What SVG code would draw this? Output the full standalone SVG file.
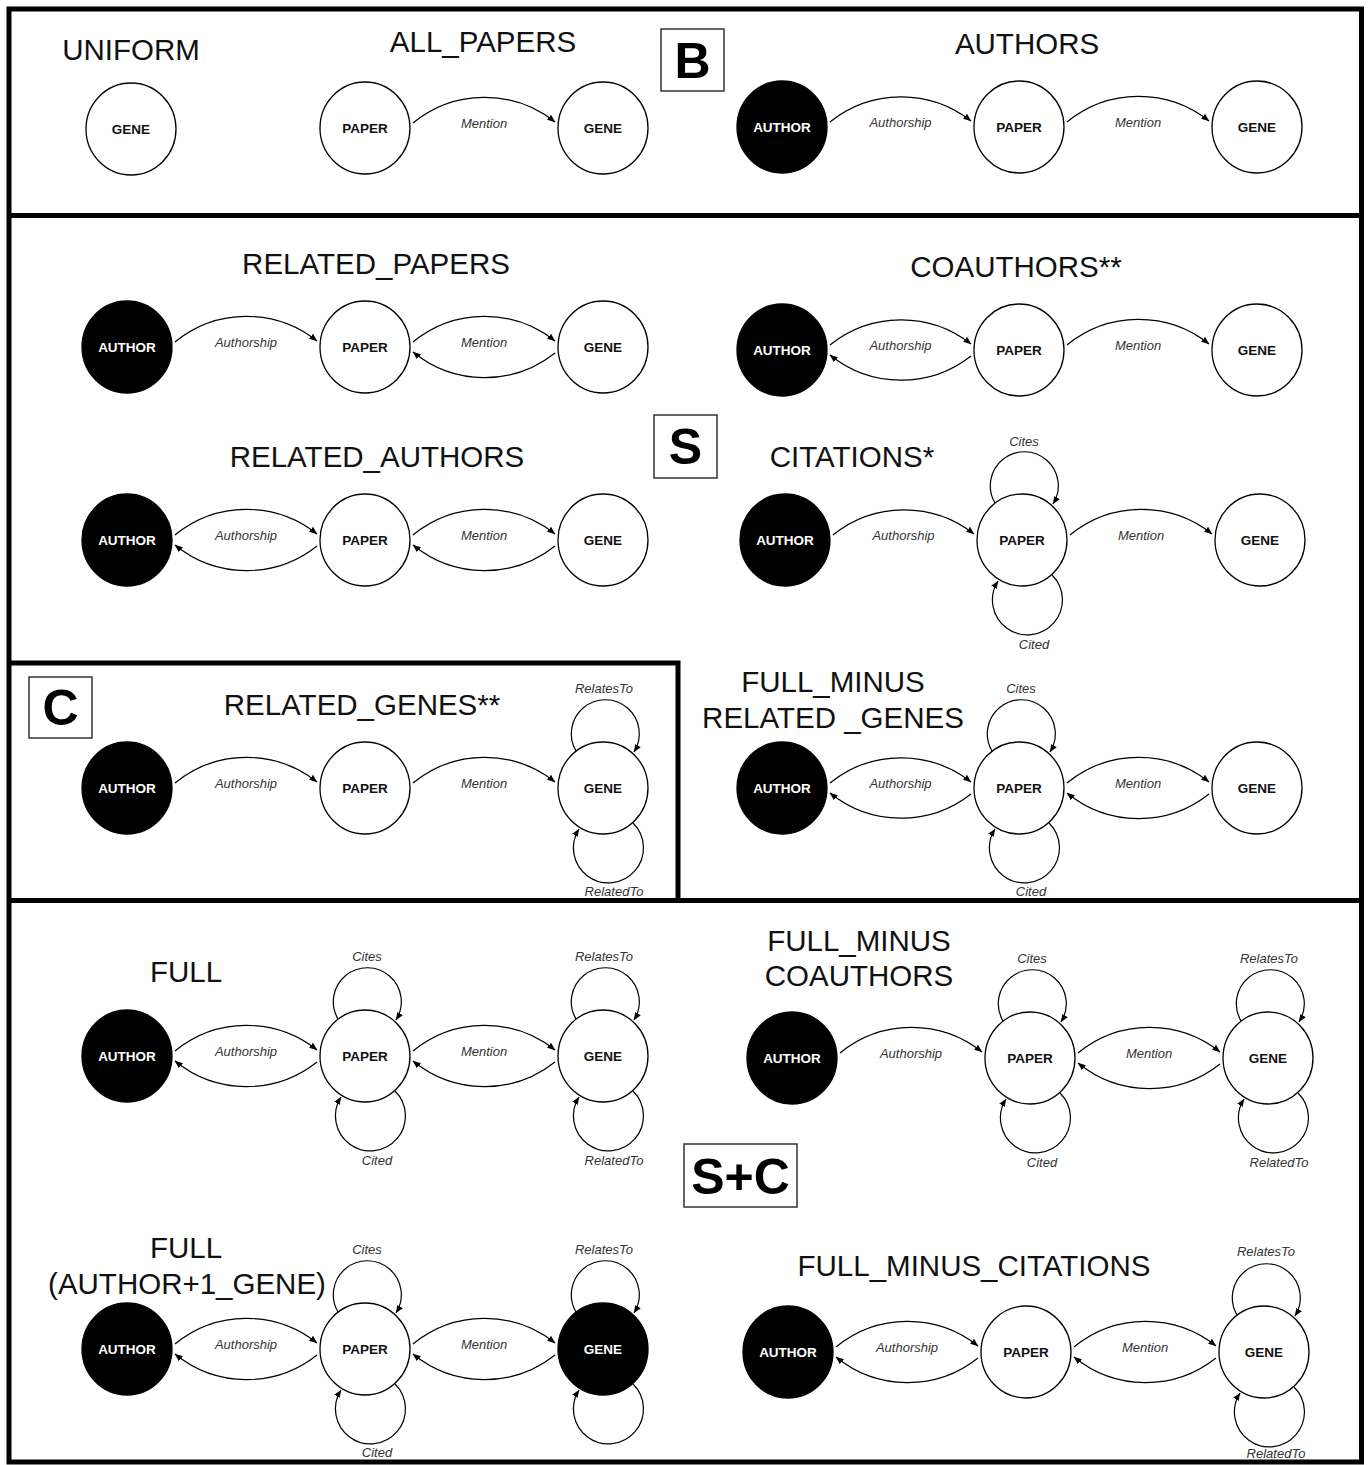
<svg xmlns="http://www.w3.org/2000/svg" width="1369" height="1465" viewBox="0 0 1369 1465">
  <defs>
    <marker id="ah" viewBox="0 0 10 10" refX="9.5" refY="5" markerWidth="8" markerHeight="8" markerUnits="userSpaceOnUse" orient="auto">
      <path d="M0,1 L10,5 L0,9 z" fill="#000"/>
    </marker>
    <style>
      .frame { fill: none; stroke: #000; stroke-width: 5; }
      .tag { fill: #fff; stroke: #333; stroke-width: 1.5; }
      .tagtxt { font-family: "Liberation Sans", Arial, sans-serif; font-weight: bold; font-size: 50px; text-anchor: middle; fill: #000; }
      .title { font-family: "Liberation Sans", Arial, sans-serif; font-size: 29.5px; text-anchor: middle; fill: #111; }
      .node { fill: #fff; stroke: #000; stroke-width: 1.3; }
      .dark { fill: #000; }
      .nl { font-family: "Liberation Sans", Arial, sans-serif; font-weight: bold; font-size: 13.5px; text-anchor: middle; fill: #111; }
      .nlw { fill: #fff; }
      .edge { fill: none; stroke: #000; stroke-width: 1.2; marker-end: url(#ah); }
      .el { font-family: "Liberation Sans", Arial, sans-serif; font-style: italic; font-size: 13px; text-anchor: middle; fill: #333; }
    </style>
  </defs>
  <rect width="1369" height="1465" fill="#fff"/>

  <!-- panel frames -->
  <g id="frames">
    <rect class="frame" x="9" y="9" width="1352.5" height="1453"/>
    <line class="frame" x1="9" y1="215.5" x2="1361.5" y2="215.5"/>
    <line class="frame" x1="9" y1="900.5" x2="1361.5" y2="900.5"/>
    <path class="frame" d="M9,663 H678 V900.5"/>
  </g>

  <!-- section tags -->
  <g id="tag-B"><rect class="tag" x="661" y="29" width="63" height="62"/><text class="tagtxt" x="692.5" y="78">B</text></g>
  <g id="tag-S"><rect class="tag" x="654" y="415" width="63" height="63"/><text class="tagtxt" x="685.5" y="464">S</text></g>
  <g id="tag-C"><rect class="tag" x="29" y="677" width="63" height="61"/><text class="tagtxt" x="60.5" y="725">C</text></g>
  <g id="tag-SC"><rect class="tag" x="684" y="1144" width="113" height="63"/><text class="tagtxt" x="740.5" y="1194">S+C</text></g>

  <!-- titles -->
  <g id="titles">
    <text class="title" x="131" y="60">UNIFORM</text>
    <text class="title" x="483" y="52">ALL_PAPERS</text>
    <text class="title" x="1027" y="54">AUTHORS</text>
    <text class="title" x="376" y="274">RELATED_PAPERS</text>
    <text class="title" x="1016" y="277">COAUTHORS**</text>
    <text class="title" x="377" y="467">RELATED_AUTHORS</text>
    <text class="title" x="852" y="467">CITATIONS*</text>
    <text class="title" x="362" y="715">RELATED_GENES**</text>
    <text class="title" x="833" y="692">FULL_MINUS</text>
    <text class="title" x="833" y="728">RELATED _GENES</text>
    <text class="title" x="186" y="982">FULL</text>
    <text class="title" x="859" y="951">FULL_MINUS</text>
    <text class="title" x="859" y="986">COAUTHORS</text>
    <text class="title" x="186" y="1258">FULL</text>
    <text class="title" x="187" y="1294">(AUTHOR+1_GENE)</text>
    <text class="title" x="974" y="1276">FULL_MINUS_CITATIONS</text>
  </g>

  <!-- connectors: forward edges arc over the top, reverse edges under the bottom -->
  <g id="connectors">
    <!-- ALL_PAPERS -->
    <path class="edge" d="M413,123 A113,113 0 0 1 555,122"/>
    <text class="el" x="484" y="128">Mention</text>
    <!-- AUTHORS -->
    <path class="edge" d="M830,122 A113,113 0 0 1 971,121"/>
    <path class="edge" d="M1067,122 A113,113 0 0 1 1209,121"/>
    <text class="el" x="900.5" y="127">Authorship</text>
    <text class="el" x="1138" y="127">Mention</text>
    <!-- RELATED_PAPERS -->
    <path class="edge" d="M175,342 A113,113 0 0 1 317,341"/>
    <path class="edge" d="M413,342 A113,113 0 0 1 555,341"/>
    <path class="edge" d="M555,353 A113,113 0 0 1 413,352"/>
    <text class="el" x="246" y="347">Authorship</text>
    <text class="el" x="484" y="347">Mention</text>
    <!-- COAUTHORS -->
    <path class="edge" d="M830,345 A113,113 0 0 1 971,344"/>
    <path class="edge" d="M971,356 A113,113 0 0 1 830,355"/>
    <path class="edge" d="M1067,345 A113,113 0 0 1 1209,344"/>
    <text class="el" x="900.5" y="350">Authorship</text>
    <text class="el" x="1138" y="350">Mention</text>
    <!-- RELATED_AUTHORS -->
    <path class="edge" d="M175,535 A113,113 0 0 1 317,534"/>
    <path class="edge" d="M317,546 A113,113 0 0 1 175,545"/>
    <path class="edge" d="M413,535 A113,113 0 0 1 555,534"/>
    <path class="edge" d="M555,546 A113,113 0 0 1 413,545"/>
    <text class="el" x="246" y="540">Authorship</text>
    <text class="el" x="484" y="540">Mention</text>
    <!-- CITATIONS -->
    <path class="edge" d="M833,535 A113,113 0 0 1 974,534"/>
    <path class="edge" d="M1070,535 A113,113 0 0 1 1212,534"/>
    <path class="edge" d="M995,503 A34,34 0 1 1 1053,504"/>
    <path class="edge" d="M1052,575 A35,35 0 1 1 998,581"/>
    <text class="el" x="903.5" y="540">Authorship</text>
    <text class="el" x="1141" y="540">Mention</text>
    <text class="el" x="1024" y="446">Cites</text>
    <text class="el" x="1034" y="649">Cited</text>
    <!-- RELATED_GENES -->
    <path class="edge" d="M175,783 A113,113 0 0 1 317,782"/>
    <path class="edge" d="M413,783 A113,113 0 0 1 555,782"/>
    <path class="edge" d="M576,751 A34,34 0 1 1 634,752"/>
    <path class="edge" d="M633,823 A35,35 0 1 1 579,829"/>
    <text class="el" x="246" y="788">Authorship</text>
    <text class="el" x="484" y="788">Mention</text>
    <text class="el" x="604" y="693">RelatesTo</text>
    <text class="el" x="614" y="896">RelatedTo</text>
    <!-- FULL_MINUS RELATED_GENES -->
    <path class="edge" d="M830,783 A113,113 0 0 1 971,782"/>
    <path class="edge" d="M971,794 A113,113 0 0 1 830,793"/>
    <path class="edge" d="M1067,783 A113,113 0 0 1 1209,782"/>
    <path class="edge" d="M1209,794 A113,113 0 0 1 1067,793"/>
    <path class="edge" d="M992,751 A34,34 0 1 1 1050,752"/>
    <path class="edge" d="M1049,823 A35,35 0 1 1 995,829"/>
    <text class="el" x="900.5" y="788">Authorship</text>
    <text class="el" x="1138" y="788">Mention</text>
    <text class="el" x="1021" y="693">Cites</text>
    <text class="el" x="1031" y="896">Cited</text>
    <!-- FULL -->
    <path class="edge" d="M175,1051 A113,113 0 0 1 317,1050"/>
    <path class="edge" d="M317,1062 A113,113 0 0 1 175,1061"/>
    <path class="edge" d="M413,1051 A113,113 0 0 1 555,1050"/>
    <path class="edge" d="M555,1062 A113,113 0 0 1 413,1061"/>
    <path class="edge" d="M338,1019 A34,34 0 1 1 396,1020"/>
    <path class="edge" d="M395,1091 A35,35 0 1 1 341,1097"/>
    <path class="edge" d="M576,1019 A34,34 0 1 1 634,1020"/>
    <path class="edge" d="M633,1091 A35,35 0 1 1 579,1097"/>
    <text class="el" x="246" y="1056">Authorship</text>
    <text class="el" x="484" y="1056">Mention</text>
    <text class="el" x="367" y="961">Cites</text>
    <text class="el" x="377" y="1165">Cited</text>
    <text class="el" x="604" y="961">RelatesTo</text>
    <text class="el" x="614" y="1165">RelatedTo</text>
    <!-- FULL_MINUS COAUTHORS -->
    <path class="edge" d="M840,1053 A113,113 0 0 1 982,1052"/>
    <path class="edge" d="M1078,1053 A113,113 0 0 1 1220,1052"/>
    <path class="edge" d="M1220,1064 A113,113 0 0 1 1078,1063"/>
    <path class="edge" d="M1003,1021 A34,34 0 1 1 1061,1022"/>
    <path class="edge" d="M1060,1093 A35,35 0 1 1 1006,1099"/>
    <path class="edge" d="M1241,1021 A34,34 0 1 1 1299,1022"/>
    <path class="edge" d="M1298,1093 A35,35 0 1 1 1244,1099"/>
    <text class="el" x="911" y="1058">Authorship</text>
    <text class="el" x="1149" y="1058">Mention</text>
    <text class="el" x="1032" y="963">Cites</text>
    <text class="el" x="1042" y="1167">Cited</text>
    <text class="el" x="1269" y="963">RelatesTo</text>
    <text class="el" x="1279" y="1167">RelatedTo</text>
    <!-- FULL (AUTHOR+1_GENE) -->
    <path class="edge" d="M175,1344 A113,113 0 0 1 317,1343"/>
    <path class="edge" d="M317,1355 A113,113 0 0 1 175,1354"/>
    <path class="edge" d="M413,1344 A113,113 0 0 1 555,1343"/>
    <path class="edge" d="M555,1355 A113,113 0 0 1 413,1354"/>
    <path class="edge" d="M338,1312 A34,34 0 1 1 396,1313"/>
    <path class="edge" d="M395,1384 A35,35 0 1 1 341,1390"/>
    <path class="edge" d="M576,1312 A34,34 0 1 1 634,1313"/>
    <path class="edge" d="M633,1384 A35,35 0 1 1 579,1390"/>
    <text class="el" x="246" y="1349">Authorship</text>
    <text class="el" x="484" y="1349">Mention</text>
    <text class="el" x="367" y="1254">Cites</text>
    <text class="el" x="377" y="1457">Cited</text>
    <text class="el" x="604" y="1254">RelatesTo</text>
    <!-- FULL_MINUS_CITATIONS -->
    <path class="edge" d="M836,1347 A113,113 0 0 1 978,1346"/>
    <path class="edge" d="M978,1358 A113,113 0 0 1 836,1357"/>
    <path class="edge" d="M1074,1347 A113,113 0 0 1 1216,1346"/>
    <path class="edge" d="M1216,1358 A113,113 0 0 1 1074,1357"/>
    <path class="edge" d="M1237,1315 A34,34 0 1 1 1295,1316"/>
    <path class="edge" d="M1294,1387 A35,35 0 1 1 1240,1393"/>
    <text class="el" x="907" y="1352">Authorship</text>
    <text class="el" x="1145" y="1352">Mention</text>
    <text class="el" x="1266" y="1256">RelatesTo</text>
    <text class="el" x="1276" y="1458">RelatedTo</text>
  </g>

  <!-- nodes -->
  <g id="uniform-gene"><ellipse class="node" cx="131" cy="129" rx="45" ry="46"/><text class="nl" x="131" y="134">GENE</text></g>

  <g id="allpapers-paper"><ellipse class="node" cx="365" cy="128" rx="45" ry="46"/><text class="nl" x="365" y="133">PAPER</text></g>
  <g id="allpapers-gene"><ellipse class="node" cx="603" cy="128" rx="45" ry="46"/><text class="nl" x="603" y="133">GENE</text></g>

  <g id="authors-author"><ellipse class="node dark" cx="782" cy="127" rx="45" ry="46"/><text class="nl nlw" x="782" y="132">AUTHOR</text></g>
  <g id="authors-paper"><ellipse class="node" cx="1019" cy="127" rx="45" ry="46"/><text class="nl" x="1019" y="132">PAPER</text></g>
  <g id="authors-gene"><ellipse class="node" cx="1257" cy="127" rx="45" ry="46"/><text class="nl" x="1257" y="132">GENE</text></g>

  <g id="relpapers-author"><ellipse class="node dark" cx="127" cy="347" rx="45" ry="46"/><text class="nl nlw" x="127" y="352">AUTHOR</text></g>
  <g id="relpapers-paper"><ellipse class="node" cx="365" cy="347" rx="45" ry="46"/><text class="nl" x="365" y="352">PAPER</text></g>
  <g id="relpapers-gene"><ellipse class="node" cx="603" cy="347" rx="45" ry="46"/><text class="nl" x="603" y="352">GENE</text></g>

  <g id="coauthors-author"><ellipse class="node dark" cx="782" cy="350" rx="45" ry="46"/><text class="nl nlw" x="782" y="355">AUTHOR</text></g>
  <g id="coauthors-paper"><ellipse class="node" cx="1019" cy="350" rx="45" ry="46"/><text class="nl" x="1019" y="355">PAPER</text></g>
  <g id="coauthors-gene"><ellipse class="node" cx="1257" cy="350" rx="45" ry="46"/><text class="nl" x="1257" y="355">GENE</text></g>

  <g id="relauthors-author"><ellipse class="node dark" cx="127" cy="540" rx="45" ry="46"/><text class="nl nlw" x="127" y="545">AUTHOR</text></g>
  <g id="relauthors-paper"><ellipse class="node" cx="365" cy="540" rx="45" ry="46"/><text class="nl" x="365" y="545">PAPER</text></g>
  <g id="relauthors-gene"><ellipse class="node" cx="603" cy="540" rx="45" ry="46"/><text class="nl" x="603" y="545">GENE</text></g>

  <g id="citations-author"><ellipse class="node dark" cx="785" cy="540" rx="45" ry="46"/><text class="nl nlw" x="785" y="545">AUTHOR</text></g>
  <g id="citations-paper"><ellipse class="node" cx="1022" cy="540" rx="45" ry="46"/><text class="nl" x="1022" y="545">PAPER</text></g>
  <g id="citations-gene"><ellipse class="node" cx="1260" cy="540" rx="45" ry="46"/><text class="nl" x="1260" y="545">GENE</text></g>

  <g id="relgenes-author"><ellipse class="node dark" cx="127" cy="788" rx="45" ry="46"/><text class="nl nlw" x="127" y="793">AUTHOR</text></g>
  <g id="relgenes-paper"><ellipse class="node" cx="365" cy="788" rx="45" ry="46"/><text class="nl" x="365" y="793">PAPER</text></g>
  <g id="relgenes-gene"><ellipse class="node" cx="603" cy="788" rx="45" ry="46"/><text class="nl" x="603" y="793">GENE</text></g>

  <g id="fmrg-author"><ellipse class="node dark" cx="782" cy="788" rx="45" ry="46"/><text class="nl nlw" x="782" y="793">AUTHOR</text></g>
  <g id="fmrg-paper"><ellipse class="node" cx="1019" cy="788" rx="45" ry="46"/><text class="nl" x="1019" y="793">PAPER</text></g>
  <g id="fmrg-gene"><ellipse class="node" cx="1257" cy="788" rx="45" ry="46"/><text class="nl" x="1257" y="793">GENE</text></g>

  <g id="full-author"><ellipse class="node dark" cx="127" cy="1056" rx="45" ry="46"/><text class="nl nlw" x="127" y="1061">AUTHOR</text></g>
  <g id="full-paper"><ellipse class="node" cx="365" cy="1056" rx="45" ry="46"/><text class="nl" x="365" y="1061">PAPER</text></g>
  <g id="full-gene"><ellipse class="node" cx="603" cy="1056" rx="45" ry="46"/><text class="nl" x="603" y="1061">GENE</text></g>

  <g id="fmco-author"><ellipse class="node dark" cx="792" cy="1058" rx="45" ry="46"/><text class="nl nlw" x="792" y="1063">AUTHOR</text></g>
  <g id="fmco-paper"><ellipse class="node" cx="1030" cy="1058" rx="45" ry="46"/><text class="nl" x="1030" y="1063">PAPER</text></g>
  <g id="fmco-gene"><ellipse class="node" cx="1268" cy="1058" rx="45" ry="46"/><text class="nl" x="1268" y="1063">GENE</text></g>

  <g id="full1-author"><ellipse class="node dark" cx="127" cy="1349" rx="45" ry="46"/><text class="nl nlw" x="127" y="1354">AUTHOR</text></g>
  <g id="full1-paper"><ellipse class="node" cx="365" cy="1349" rx="45" ry="46"/><text class="nl" x="365" y="1354">PAPER</text></g>
  <g id="full1-gene"><ellipse class="node dark" cx="603" cy="1349" rx="45" ry="46"/><text class="nl nlw" x="603" y="1354">GENE</text></g>

  <g id="fmci-author"><ellipse class="node dark" cx="788" cy="1352" rx="45" ry="46"/><text class="nl nlw" x="788" y="1357">AUTHOR</text></g>
  <g id="fmci-paper"><ellipse class="node" cx="1026" cy="1352" rx="45" ry="46"/><text class="nl" x="1026" y="1357">PAPER</text></g>
  <g id="fmci-gene"><ellipse class="node" cx="1264" cy="1352" rx="45" ry="46"/><text class="nl" x="1264" y="1357">GENE</text></g>
</svg>
